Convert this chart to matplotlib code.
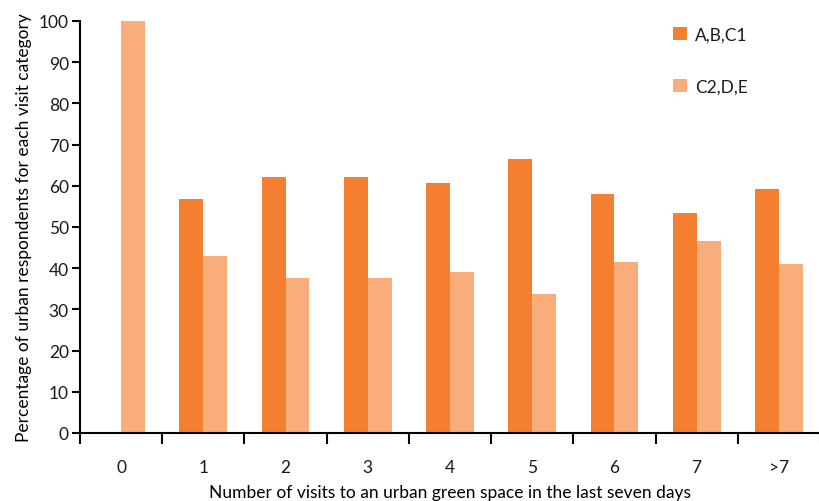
import matplotlib
matplotlib.use("Agg")
import matplotlib.pyplot as plt
import numpy as np

categories = ["0", "1", "2", "3", "4", "5", "6", "7", ">7"]
abc1 = [0, 56.8, 62.2, 62.2, 60.6, 66.6, 58.0, 53.3, 59.3]
c2de = [100, 43.0, 37.6, 37.6, 39.1, 33.7, 41.5, 46.7, 40.9]
series_names = ["A,B,C1", "C2,D,E"]

plt.rcParams['font.family'] = ['Lato', 'DejaVu Sans']
plt.rcParams['text.color'] = '#1a1a1a'

fig = plt.figure(figsize=(8.2, 5.02), dpi=100)
ax = fig.add_axes([80/820, 1-434/502, 740/820, 412/502])

x = np.arange(len(categories))
w = 0.29
ax.bar(x - w/2, abc1, width=w, color="#F47F31", label=series_names[0])
ax.bar(x + w/2, c2de, width=w, color="#F9AD7A", label=series_names[1])

ax.set_xlim(-0.5, len(categories) - 0.5)
ax.set_ylim(0, 100)
ax.set_yticks(np.arange(0, 101, 10))
ax.set_xticks(x)
ax.set_xticklabels(categories)
ax.set_xticks(np.arange(-0.5, len(categories)), minor=True)
ax.tick_params(axis='x', which='major', length=0, pad=19, labelsize=12.5, labelcolor='#1a1a1a')
ax.tick_params(axis='x', which='minor', length=8, width=1.5, direction='out')
ax.tick_params(axis='y', length=6, width=1.5, direction='out', labelsize=12.5, pad=2, labelcolor='#1a1a1a')

for s in ["top", "right"]:
    ax.spines[s].set_visible(False)
for s in ["left", "bottom"]:
    ax.spines[s].set_linewidth(1.5)

ax.set_xlabel("Number of visits to an urban green space in the last seven days", fontsize=12.5, labelpad=6)
ax.set_ylabel("Percentage of urban respondents for each visit category", fontsize=12.5, labelpad=5)

ax.legend(loc="upper left", bbox_to_anchor=(0.78, 1.025), frameon=False,
          handlelength=0.8, handleheight=0.8, labelspacing=2.1, fontsize=12.5,
          handletextpad=0.5)

fig.savefig("out.png", dpi=100)
